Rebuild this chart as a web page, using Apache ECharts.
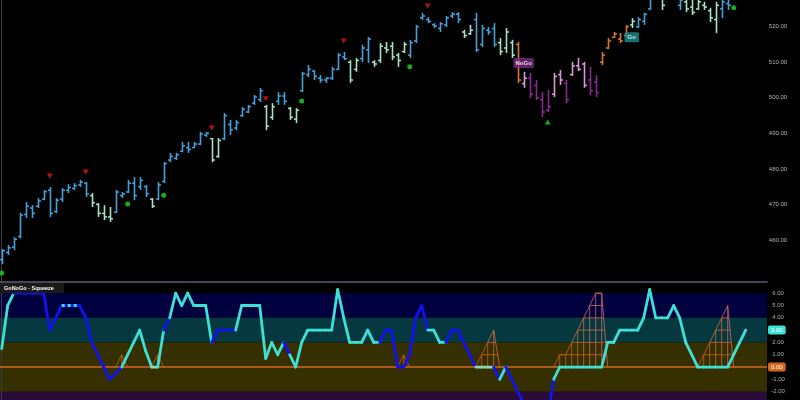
<!DOCTYPE html>
<html><head><meta charset="utf-8">
<script src="https://cdn.jsdelivr.net/npm/echarts@6/dist/echarts.min.js"></script>
<style>html,body{margin:0;padding:0;background:#000;}#c{width:800px;height:400px;}</style>
</head><body><div id="c"></div>
<script>
// ---- price bars: [open, high, low, close] ----
const ohlc = [
[454.5,457.5,453.2,457.0],[456.5,458.6,455.8,457.8],[458.0,460.8,457.2,460.2],[461.0,467.6,460.5,467.0],[467.2,470.7,466.2,469.5],
[469.0,469.8,466.2,467.5],[469.5,471.8,469.0,471.0],[471.5,474.1,471.2,473.6],[474.0,474.9,466.5,467.5],[468.0,471.8,467.6,471.2],
[471.5,474.6,470.7,474.0],[474.0,475.7,473.2,474.8],[474.5,476.0,474.1,475.3],[475.5,476.9,474.9,476.3],[476.0,476.3,472.1,473.0],
[472.5,473.2,469.3,470.5],[470.0,470.4,466.5,467.5],[467.5,469.8,465.6,466.5],[466.5,469.3,465.1,466.0],[467.8,474.1,467.6,473.5],
[472.5,473.5,471.8,473.0],[473.5,476.9,473.2,476.0],[476.0,477.7,471.2,472.5],[475.0,477.7,474.1,476.8],[475.0,475.5,472.1,473.0],
[471.5,471.8,469.0,469.5],[471.5,476.3,471.2,475.5],[476.5,481.9,476.0,481.5],[482.5,484.5,481.9,483.5],[483.0,484.5,482.5,484.0],
[485.0,487.6,484.7,486.5],[486.0,487.6,484.5,485.5],[486.0,487.6,485.9,487.0],[487.0,490.4,486.7,489.8],[489.5,490.4,489.0,490.0],
[488.5,488.7,481.9,482.5],[483.5,488.7,483.1,488.0],[488.5,495.7,488.1,495.0],[492.5,493.8,489.5,491.0],[491.5,493.8,490.9,493.0],
[495.0,497.4,494.6,496.8],[496.0,498.0,495.7,497.5],[498.5,500.8,498.0,500.2],[499.5,502.8,498.8,502.0],[497.5,498.0,490.9,492.0],
[494.5,498.5,493.8,497.5],[499.0,501.6,498.0,500.5],[500.5,501.6,498.0,499.0],[497.0,497.4,493.8,494.5],[494.0,497.1,492.9,496.5],
[502.0,507.3,501.6,506.8],[506.5,509.2,505.8,508.0],[507.5,507.8,505.0,506.0],[505.5,506.4,504.2,505.0],[505.0,505.8,504.2,505.5],
[505.5,508.7,505.0,508.0],[508.0,512.6,507.8,512.0],[511.5,512.9,510.6,511.0],[510.0,510.6,504.2,505.0],[508.0,511.2,507.3,510.5],
[511.0,514.9,510.1,514.0],[513.5,517.1,509.8,516.5],[510.0,510.6,508.7,509.5],[510.5,515.4,509.8,514.5],[514.0,515.7,512.6,513.5],
[514.5,515.7,510.6,511.5],[512.0,512.6,508.7,510.5],[513.0,515.7,512.6,515.0],[512.0,516.3,511.2,515.5],[516.0,520.5,515.4,520.0],
[522.5,523.9,521.9,523.0],[522.0,522.7,521.0,521.5],[520.5,521.0,519.6,520.2],[519.5,521.3,518.5,520.8],[520.5,523.0,519.9,522.5],
[523.0,524.1,522.4,523.5],[523.5,524.1,521.0,522.0],[518.5,519.1,516.8,517.5],[518.0,520.5,517.7,519.0],[522.0,523.9,512.9,513.5],
[515.0,520.5,514.3,519.5],[519.0,519.9,517.7,518.5],[519.5,521.0,514.3,515.0],[515.5,516.8,512.0,513.0],[514.0,519.6,512.6,518.5],
[515.5,516.3,511.2,512.0],[515.0,515.7,504.2,505.0],[504.0,507.3,502.8,505.5],[505.5,507.0,499.9,501.0],[503.5,505.0,499.4,500.0],
[499.5,501.6,494.6,496.0],[496.5,502.2,496.0,497.5],[501.0,507.0,500.2,506.0],[506.5,507.8,503.6,505.0],[504.0,505.0,498.5,499.5],
[506.5,510.1,506.1,509.0],[509.0,511.2,507.5,508.0],[509.5,510.1,502.8,503.5],[505.0,508.7,500.8,502.0],[504.5,506.4,500.2,501.5],
[510.0,512.9,509.2,512.0],[514.0,516.8,513.7,516.0],[517.0,518.5,516.8,518.0],[516.5,518.2,515.4,516.0],[517.5,520.5,517.1,520.0],
[520.5,522.4,519.6,521.5],[520.0,522.7,519.6,522.0],[521.5,523.9,520.5,523.5],[525.0,528.5,524.7,528.0],[529.0,531.0,528.0,530.0],
[528.5,530.0,524.7,526.0],[529.0,532.0,528.0,531.0],[530.0,532.0,528.5,529.5],[526.0,528.5,524.7,527.5],[527.0,528.5,524.1,525.0],
[525.5,528.0,523.3,524.0],[525.0,528.0,524.7,527.0],[526.0,527.0,524.7,525.5],[524.5,525.3,521.3,522.5],[522.0,527.0,518.2,526.0],
[525.0,528.0,522.4,527.0],[526.5,528.5,524.7,526.0],[528.5,530.5,527.8,530.0],[530.0,531.5,529.0,531.0],[531.0,532.5,530.0,532.0]
];
// bar regime per bar: B strong go, G weak go, O amber, P weak nogo, U strong nogo
const barTone = 'BBBBBBBBBBBBBBB' + 'GGGG' + 'BBBBBB' + 'G' + 'BBBBBBBBB' + 'GG' + 'BBBBBBB' + 'GG' + 'BB' + 'GG' +
  'BBBBBBBB' + 'GG' + 'BB' + 'GGGGGG' + 'BBBBBBBBB' + 'GG' + 'BBBB' + 'GGG' + 'O' + 'P' + 'UUUU' + 'PP' + 'U' + 'PPP' + 'UU' +
  'OOOOO' + 'G' + 'BBBB' + 'G' + 'BBB' + 'GGGGGG' + 'BBBBB';
const greenDots = [[0,450.7],[21,470.1],[27,472.6],[50,499.1],[68,508.7],[122,525.3]];
const sellSignals = [[8,478.0],[14,479.1],[35,491.5],[44,499.7],[57,516.0],[71,525.8]];
const buySignals = [[91,493.2]];
const phaseLabels = [[87,509.8,'NoGo'],[105,517.0,'Go']];
const priceTicks = [460,470,480,490,500,510,520];

// ---- squeeze oscillator ----
const squeeze = [
1.5,5,6,6,6,6,6,6,3,4,
5,5,5,5,4,2,1,0,-1,-0.5,
0,1,2,3,1.3,0,0,3,4,6,
5,6,5,5,5,2,3,3,3,3,
5,5,5,5,0.7,2,1,2,1,0,
2,3,3,3,3,3,6.3,4,2,2,
2,3,2,2,3,3,0,0,1,4,
5,3,3,2,2,3,3,2,1,0,
0,0,0,-1,0,-1,-2,-3,-4,-5,
-5,-4,-1,0,0,0,0,0,0,0,
0,2,2,3,3,3,3,4,6.3,4,
4,4,5,4,2,1,0,0,0,0,
0,0,1,2,3];
const squeezeTone = 'ccc' + 'bbbbbbbb' + 'ddd' + 'bbbbbbb' + 'ccccc' + 'g' + 'c' + 'b' + 'ccccccc' + 'bbbb' + 'cccccccc' + 'b' +
  'ccccccccccccccc' + 'bbbbbbbb' + 'ccc' + 'bbbbb' + 'ggg' + 'b' + 'c' + 'bbbbbbbb' + 'cccccccccccccccccccccccccccccccc';
const squeezeTicks = [-2,-1,0,1,2,3,4,5,6];
const squeezeBands = [[6,4],[4,2],[2,-2],[-2,-2.68]];
const meshRuns = [[19,[0,1]],[25,[0,1]],[66,[0,1]],[79,[0,1,2,3]],[92,[0,1,1,2,3,4,5,6,6]],[116,[0,1,2,3,4,5]]];

// ---- styles ----
const TONE = {B:'#45a0da', G:'#a8e2c4', O:'#d9782d', P:'#d69ad6', U:'#8b2b8f'};
const SQ = {c:'#3de0d4', b:'#1212ee', g:'#8fd6b4', d:'#1212ee'};
const BAND_COLORS = ['#00003e','#06393f','#363000','#2a0a38'];
const X_MIN = -0.283, X_MAX = 127.55;
const P_MIN = 448.2, P_MAX = 527.5, S_MIN = -2.68, S_MAX = 6.83;
const FONT = 'Liberation Sans, Arial, sans-serif';

function seg(x1,y1,x2,y2,stroke,w){return {type:'line',shape:{x1,y1,x2,y2},style:{stroke,lineWidth:w}};}

function renderBar(params, api){
  const i = api.value(0);
  const pO = api.coord([i, api.value(1)]), pH = api.coord([i, api.value(2)]);
  const pL = api.coord([i, api.value(3)]), pC = api.coord([i, api.value(4)]);
  const col = TONE[barTone[params.dataIndex]];
  const x = Math.round(pH[0]) + 0.5;
  return {type:'group', children:[
    seg(x,pH[1],x,pL[1],col,1.6),
    seg(x-2.5,pO[1],x,pO[1],col,1.5),
    seg(x,pC[1],x+2.5,pC[1],col,1.5)
  ]};
}
function renderBand(params, api){
  const b = squeezeBands[params.dataIndex];
  const a = api.coord([X_MIN, b[0]]), c = api.coord([X_MAX, b[1]]);
  return {type:'rect', shape:{x:a[0], y:a[1], width:c[0]-a[0], height:c[1]-a[1]}, style:{fill:BAND_COLORS[params.dataIndex]}};
}
function renderSq(params, api){
  const i = params.dataIndex;
  if (i === 0) return null;
  const a = api.coord([i-1, squeeze[i-1]]), b = api.coord([i, squeeze[i]]);
  const code = squeezeTone[i];
  const shape = {x1:a[0], y1:a[1], x2:b[0], y2:b[1]};
  const ch = [{type:'line', shape, style:{stroke:SQ[code], lineWidth:2.8, lineCap:'round'}}];
  if (code === 'd') ch.push({type:'line', shape, style:{stroke:SQ.c, lineWidth:2.8, lineDash:[3,2.5]}});
  return {type:'group', children:ch};
}
const meshPts = [];
meshRuns.forEach((r, ri) => r[1].forEach((L, j) => meshPts.push([r[0] + j, L, ri, j])));
function meshColor(k){ return k >= 5 ? '#cc6a6a' : (k >= 3 ? '#c96d3a' : '#c4621c'); }
function renderMesh(params, api){
  const [i, L, ri, j] = meshPts[params.dataIndex];
  const run = meshRuns[ri][1];
  const base = api.coord([i, 0]);
  const x = base[0], y0 = base[1];
  const unit = y0 - api.coord([i, 1])[1];
  const dx = api.coord([i + 1, 0])[0] - x;
  const w = 0.8;
  const ch = [];
  if (L > 0) ch.push(seg(x, y0, x, y0 - L*unit, meshColor(L), w));
  if (j > 0) ch.push(seg(x - dx, y0 - run[j-1]*unit, x, y0 - L*unit, meshColor(L), w));
  const last = j === run.length - 1;
  for (let k = 1; k <= Math.floor(L); k++) {
    const xe = last ? x + dx*(1 - k/L) : x + dx;
    ch.push(seg(x, y0 - k*unit, xe, y0 - k*unit, meshColor(k), w));
  }
  if (last && L > 0) ch.push(seg(x, y0 - L*unit, x + dx, y0, meshColor(L), w));
  return {type:'group', children:ch};
}

const chart = echarts.init(document.getElementById('c'));
const axisLabelBase = {color:'#b4b4b4', fontSize:6, margin:11, align:'center', fontFamily:FONT};
const lastSq = squeeze[squeeze.length-1];
chart.setOption({
  animation:false,
  backgroundColor:'#000',
  title:{text:'GoNoGo - Squeeze', left:0, top:283, padding:[2,10,2,4], backgroundColor:'#1a1a1a',
    textStyle:{color:'#ffffff', fontSize:5.5, fontWeight:'bold', fontFamily:FONT}},
  grid:[
    {left:0, right:33, top:0, height:282, containLabel:false, outerBoundsMode:'none'},
    {left:0, right:33, top:283, height:117, containLabel:false, outerBoundsMode:'none'}
  ],
  xAxis:[
    {type:'value', gridIndex:0, min:X_MIN, max:X_MAX, axisLine:{show:true, onZero:false, lineStyle:{color:'#59626e', width:1.5}},
      axisTick:{show:false}, axisLabel:{show:false}, splitLine:{show:false}},
    {type:'value', gridIndex:1, min:X_MIN, max:X_MAX, show:false}
  ],
  yAxis:[
    {type:'value', gridIndex:0, position:'right', min:P_MIN, max:P_MAX,
      axisLine:{show:true, lineStyle:{color:'#3c3c3c', width:1}}, axisTick:{show:false}, splitLine:{show:false},
      axisLabel:Object.assign({customValues:priceTicks, formatter:v => v.toFixed(2)}, axisLabelBase)},
    {type:'value', gridIndex:1, position:'right', min:S_MIN, max:S_MAX,
      axisLine:{show:true, lineStyle:{color:'#3c3c3c', width:1}}, axisTick:{show:false}, splitLine:{show:false},
      axisLabel:Object.assign({customValues:squeezeTicks, formatter:v => v.toFixed(2)}, axisLabelBase)}
  ],
  series:[
    {type:'custom', name:'bars', xAxisIndex:0, yAxisIndex:0, clip:true, renderItem:renderBar,
      encode:{x:0, y:[1,2,3,4]}, data:ohlc.map((r,i) => [i, r[0], r[1], r[2], r[3]]), z:2},
    {type:'scatter', xAxisIndex:0, yAxisIndex:0, symbol:'circle', symbolSize:5, itemStyle:{color:'#22d622'}, data:greenDots, z:3},
    {type:'scatter', xAxisIndex:0, yAxisIndex:0, symbol:'triangle', symbolRotate:180, symbolSize:[6,5], itemStyle:{color:'#e0141a'}, data:sellSignals, z:3},
    {type:'scatter', xAxisIndex:0, yAxisIndex:0, symbol:'triangle', symbolSize:[6,5], itemStyle:{color:'#26cc26'}, data:buySignals, z:3},
    {type:'scatter', xAxisIndex:0, yAxisIndex:0, symbolSize:1, itemStyle:{color:'rgba(0,0,0,0)'}, z:4, clip:false,
      data:phaseLabels.map(d => ({value:[d[0], d[1]], name:d[2],
        label:{backgroundColor: d[2] === 'Go' ? '#1b8c8c' : '#7a2a7e', padding: d[2] === 'Go' ? [2,3] : [2,2]}})),
      label:{show:true, position:'inside', formatter:p => p.name, color:'#ffffff', fontSize:6, fontWeight:'bold',
        fontFamily:FONT, borderRadius:1}},
    {type:'custom', name:'bands', xAxisIndex:1, yAxisIndex:1, clip:true, renderItem:renderBand,
      data:squeezeBands.map(b => [X_MIN, b[0]]), z:0},
    {type:'custom', name:'mesh', xAxisIndex:1, yAxisIndex:1, clip:true, renderItem:renderMesh,
      data:meshPts.map(p => [p[0], p[1]]), z:1},
    {type:'line', name:'ref', xAxisIndex:1, yAxisIndex:1, showSymbol:false, silent:true,
      data:squeeze.map((v,i) => [i, v]), lineStyle:{color:'rgba(0,0,0,0)', width:0}, z:2,
      markLine:{silent:true, symbol:'none', animation:false,
        data:[
          {yAxis:0, lineStyle:{color:'#d2691e', width:1.5, type:'solid'},
            label:{show:true, position:'end', distance:1, formatter:'0.00', color:'#ffffff', backgroundColor:'#d2691e',
              padding:[1.5,3], borderRadius:2, fontSize:6, fontFamily:FONT}},
          {yAxis:lastSq, lineStyle:{color:'rgba(0,0,0,0)', width:1, type:'solid'},
            label:{show:true, position:'end', distance:1, formatter:lastSq.toFixed(2), color:'#ffffff', backgroundColor:'#3de0d4',
              padding:[1.5,3], borderRadius:2, fontSize:6, fontFamily:FONT}}
        ]}},
    {type:'custom', name:'squeeze', xAxisIndex:1, yAxisIndex:1, clip:true, renderItem:renderSq,
      encode:{x:0, y:1}, data:squeeze.map((v,i) => [i, v]), z:5}
  ]
});
</script></body></html>
